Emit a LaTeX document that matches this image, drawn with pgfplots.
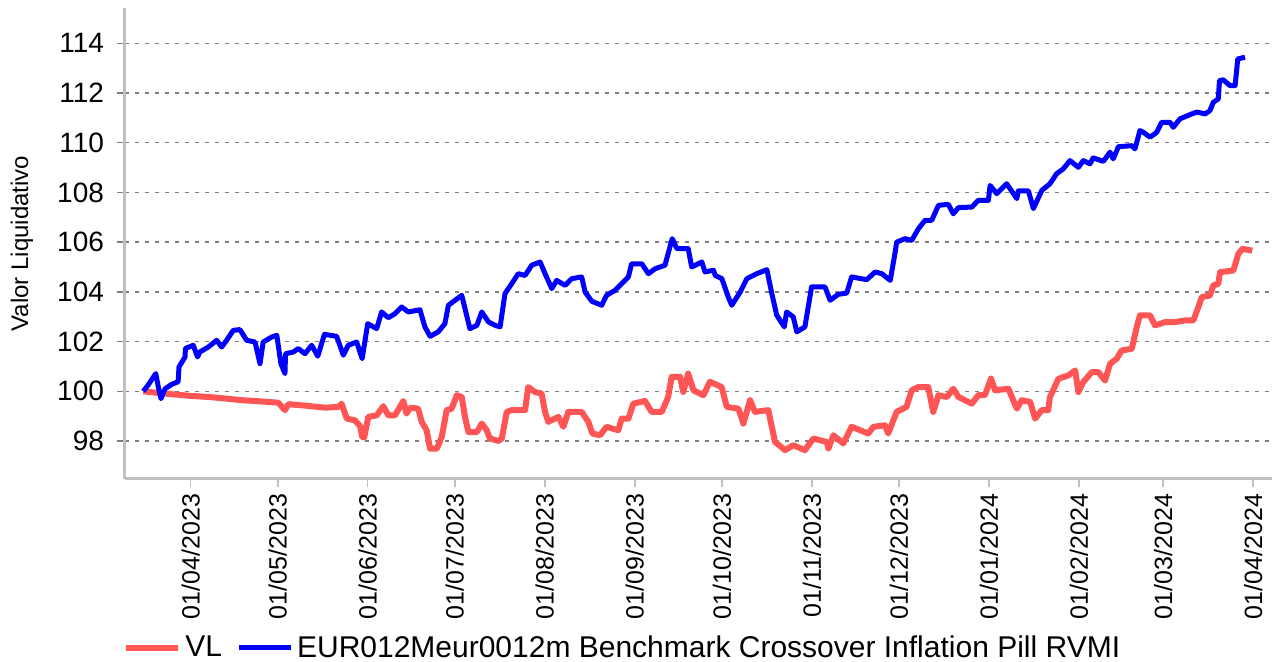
\documentclass[border=0pt]{standalone}
\usepackage{fontspec}
\setmainfont{Liberation Sans}
\usepackage{pgfplots}
\pgfplotsset{compat=1.18}

\definecolor{vlred}{RGB}{255,85,85}
\definecolor{bmblue}{RGB}{0,0,255}
\definecolor{axisgray}{RGB}{192,192,192}
\definecolor{gridgray}{RGB}{128,128,128}

\begin{document}
\begin{tikzpicture}
\begin{axis}[
    scale only axis,
    width=573.5pt, height=235.5pt,
    xmin=-22.6, xmax=372.5,
    ymin=96.47, ymax=115.42,
    axis x line*=bottom, axis y line*=left,
    axis line style={axisgray, line width=1.5pt, -},
    ytick={98,100,...,114},
    xtick={0,30,61,91,122,153,183,214,244,275,306,335,366},
    xticklabels={01/04/2023,01/05/2023,01/06/2023,01/07/2023,01/08/2023,01/09/2023,01/10/2023,01/11/2023,01/12/2023,01/01/2024,01/02/2024,01/03/2024,01/04/2024},
    tick align=outside,
    major tick length=4pt,
    xtick style={axisgray, line width=0.8pt},
    ytick style={gridgray, line width=0.7pt},
    ymajorgrids,
    grid style={gridgray, dash pattern=on 2pt off 3pt, line width=0.7pt},
    /pgf/number format/assume math mode=true,
    yticklabel style={font=\fontsize{14}{16}\selectfont, xshift=-3pt},
    xticklabel style={font=\fontsize{12.5}{15}\selectfont, rotate=90, anchor=east},
    ylabel={Valor Liquidativo},
    ylabel style={font=\fontsize{12}{14}\selectfont, at={(rel axis cs:0,0.5)}, yshift=51.5pt, anchor=center},
    legend style={at={(rel axis cs:0,0)}, anchor=west, yshift=-84.5pt, xshift=-4pt,
        draw=none, fill=none, font=\fontsize{15}{18}\selectfont,
        /tikz/every even column/.append style={column sep=5pt}},
    legend columns=-1,
    legend image code/.code={\draw[#1] (0pt,0pt) -- (26pt,0pt);},
    clip=true,
]
\coordinate (bl) at (rel axis cs:0,0);
\coordinate (tr) at (rel axis cs:1,1);
\addplot[vlred, line width=3pt, line join=round] coordinates {
(-16.3,100.0) (-11.1,99.93) (-5.4,99.87) (0.4,99.81) (6.1,99.77) (11.8,99.71) (17.6,99.64) (23.3,99.6) (30.2,99.54) (32.5,99.24) (33.7,99.48) (40.5,99.41) (46.3,99.34) (50.9,99.37) (52.0,99.5) (53.8,98.9) (56.6,98.83) (58.4,98.6) (59.1,98.16) (59.8,98.14) (61.2,98.97) (64.1,99.03) (66.4,99.4) (68.1,99.03) (70.4,99.03) (73.3,99.61) (74.4,99.1) (75.6,99.34) (78.4,99.3) (79.6,98.77) (81.3,98.43) (82.5,97.69) (84.8,97.69) (86.5,98.16) (88.2,99.24) (89.9,99.3) (91.7,99.84) (93.4,99.77) (94.5,98.97) (95.7,98.36) (98.6,98.36) (100.3,98.7) (102.0,98.43) (103.1,98.1) (106.0,98.0) (107.2,98.1) (108.9,99.17) (110.6,99.24) (115.2,99.24) (116.3,100.17) (118.6,99.97) (120.9,99.91) (122.1,99.17) (123.2,98.77) (126.7,98.97) (128.4,98.57) (130.1,99.17) (134.7,99.17) (137.0,98.77) (138.4,98.3) (141.0,98.23) (143.3,98.57) (147.3,98.43) (148.5,98.9) (150.8,98.9) (152.5,99.5) (156.5,99.61) (158.8,99.17) (162.3,99.17) (164.5,99.77) (165.7,100.58) (168.6,100.58) (169.7,99.97) (171.4,100.71) (173.2,100.04) (176.6,99.84) (178.9,100.38) (182.9,100.17) (184.7,99.37) (188.7,99.3) (190.4,98.7) (192.7,99.64) (194.4,99.17) (199.0,99.24) (201.3,97.96) (204.8,97.63) (207.6,97.83) (211.6,97.63) (214.5,98.1) (219.1,97.96) (219.7,97.7) (221.4,98.23) (224.8,97.9) (227.7,98.57) (233.4,98.3) (235.2,98.57) (239.2,98.63) (240.3,98.3) (243.2,99.17) (246.6,99.37) (248.4,100.04) (250.7,100.17) (254.1,100.17) (255.8,99.17) (257.6,99.84) (260.5,99.77) (262.7,100.1) (264.5,99.77) (269.1,99.5) (271.3,99.84) (273.6,99.84) (275.7,100.51) (277.1,100.04) (281.7,100.1) (284.6,99.3) (286.3,99.64) (289.2,99.57) (290.9,98.9) (293.2,99.24) (295.4,99.24) (296.0,99.76) (298.9,100.5) (302.4,100.64) (304.7,100.84) (305.8,99.97) (307.5,100.37) (310.4,100.77) (312.7,100.77) (315.0,100.43) (316.7,101.1) (319.0,101.31) (320.7,101.64) (324.2,101.71) (325.9,102.58) (327.0,103.05) (330.5,103.05) (332.2,102.65) (335.6,102.78) (339.1,102.78) (342.5,102.85) (345.4,102.85) (347.1,103.38) (348.3,103.79) (351.1,103.85) (352.3,104.26) (354.0,104.32) (354.6,104.79) (359.2,104.86) (360.9,105.53) (362.3,105.73) (365.7,105.66)
};
\addplot[bmblue, line width=2.5pt, line join=round] coordinates {
(-16.3,100.0) (-14.7,100.24) (-12.0,100.71) (-11.0,100.1) (-10.2,99.7) (-8.8,100.1) (-6.5,100.28) (-4.3,100.38) (-4.0,100.98) (-1.9,101.38) (-1.8,101.72) (0.9,101.85) (2.4,101.38) (3.2,101.58) (6.1,101.78) (9.0,102.05) (10.7,101.78) (12.4,102.05) (14.7,102.45) (17.0,102.48) (19.3,102.05) (22.2,101.98) (23.9,101.11) (25.0,101.98) (27.9,102.18) (29.7,102.25) (31.1,101.11) (32.5,100.71) (32.7,101.51) (35.4,101.58) (37.1,101.72) (39.4,101.51) (41.7,101.85) (43.8,101.41) (46.1,102.29) (50.3,102.21) (52.6,101.45) (54.3,101.85) (57.2,101.98) (59.1,101.31) (61.0,102.72) (64.1,102.52) (65.8,103.19) (68.1,102.96) (70.4,103.12) (72.7,103.39) (75.0,103.19) (79.0,103.28) (80.7,102.59) (82.5,102.21) (85.3,102.39) (87.6,102.72) (88.8,103.46) (91.1,103.66) (93.4,103.86) (96.2,102.52) (98.6,102.65) (100.3,103.19) (102.6,102.79) (104.9,102.65) (106.6,102.59) (108.3,103.93) (110.6,104.33) (112.9,104.73) (115.2,104.66) (117.5,105.07) (120.4,105.2) (122.1,104.73) (124.4,104.13) (126.1,104.46) (129.0,104.26) (131.3,104.53) (134.7,104.6) (135.9,103.99) (138.2,103.62) (141.6,103.46) (143.3,103.86) (146.2,104.06) (148.5,104.33) (150.8,104.6) (151.9,105.13) (155.4,105.13) (157.7,104.73) (160.0,104.93) (163.4,105.07) (165.9,106.14) (167.5,105.74) (171.4,105.74) (172.6,105.0) (176.1,105.2) (177.2,104.8) (180.1,104.87) (180.7,104.66) (183.0,104.53) (185.2,103.79) (186.4,103.46) (189.3,103.99) (191.6,104.53) (195.0,104.73) (198.5,104.89) (200.2,103.93) (201.9,103.06) (204.5,102.59) (205.3,103.19) (207.6,102.99) (208.8,102.39) (211.6,102.59) (213.9,104.2) (216.8,104.2) (218.5,104.2) (220.3,103.66) (223.1,103.9) (226.0,103.95) (227.7,104.6) (232.9,104.49) (235.8,104.8) (238.1,104.73) (241.0,104.46) (242.7,105.6) (243.2,106.0) (246.1,106.14) (248.4,106.07) (250.7,106.54) (253.0,106.88) (255.3,106.88) (257.6,107.48) (261.0,107.52) (262.7,107.14) (264.5,107.39) (269.1,107.41) (271.3,107.68) (274.8,107.68) (275.4,108.28) (277.7,107.95) (281.1,108.35) (284.6,107.75) (285.1,108.06) (288.6,108.06) (290.3,107.35) (293.2,108.08) (296.0,108.35) (298.3,108.75) (300.6,108.95) (302.9,109.28) (305.8,109.01) (307.5,109.28) (309.8,109.15) (310.9,109.39) (314.4,109.25) (316.7,109.62) (317.8,109.35) (319.6,109.84) (324.2,109.88) (325.3,109.75) (327.0,110.49) (328.2,110.42) (330.5,110.22) (332.8,110.42) (334.5,110.82) (337.4,110.82) (338.5,110.62) (340.8,110.96) (344.9,111.16) (346.6,111.23) (349.5,111.16) (351.1,111.29) (352.3,111.63) (354.0,111.76) (354.4,112.5) (355.7,112.53) (358.0,112.3) (359.8,112.3) (360.7,113.37) (363.2,113.44)
};
\legend{VL, EUR012Meur0012m Benchmark Crossover Inflation Pill RVMI}
\end{axis}
\pgfresetboundingbox
\path ([shift={(-62.5pt,-91.5pt)}]bl) rectangle ([shift={(1.5pt,4pt)}]tr);
\end{tikzpicture}
\end{document}
